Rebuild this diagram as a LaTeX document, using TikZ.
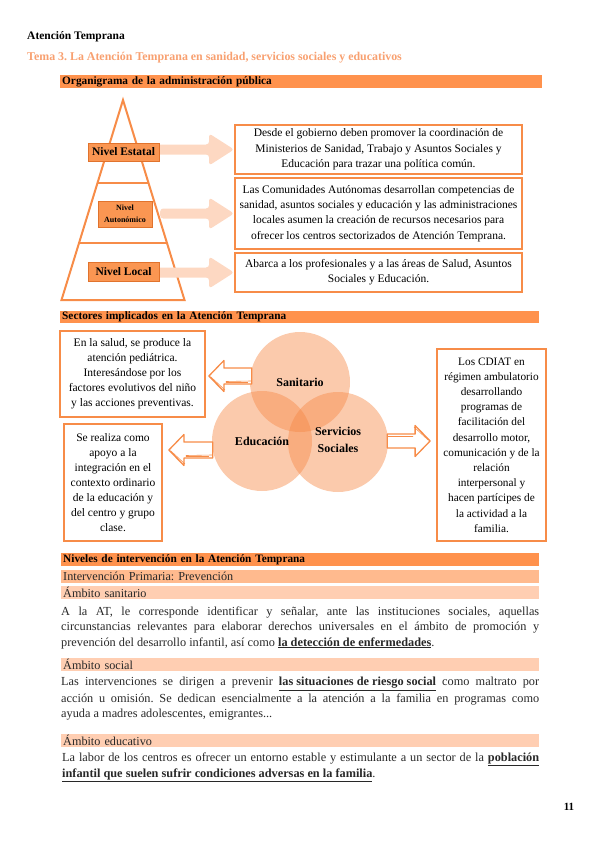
\documentclass[tikz,border=0pt]{standalone}
\usepackage{fontspec}
\setmainfont{Liberation Serif}
\usetikzlibrary{calc}
\frenchspacing
\pgfdeclarelayer{back}
\pgfdeclarelayer{mid}
\pgfsetlayers{back,mid,main}
\definecolor{orangebar}{RGB}{255,146,77}
\definecolor{lightbarA}{RGB}{255,186,142}
\definecolor{lightbarB}{RGB}{255,206,178}
\definecolor{titleorange}{RGB}{248,160,112}
\definecolor{borderorange}{RGB}{247,140,72}
\definecolor{arrowfill}{RGB}{253,216,194}
\definecolor{circorange}{RGB}{246,137,71}
\definecolor{lvlorange}{RGB}{250,150,82}
\definecolor{lvlborder}{RGB}{225,115,45}
\definecolor{bodytext}{RGB}{40,40,40}
\begin{document}
\begin{tikzpicture}[x=1pt,y=-1pt,
  barnode/.style={anchor=north west, inner xsep=2pt, inner ysep=0pt, minimum height=13pt,
     text width=478pt, align=left, font=\fontsize{11.3}{12}\selectfont\bfseries},
  lightbar/.style={anchor=north west, inner xsep=2pt, inner ysep=0pt, minimum height=12.5pt,
     text width=474pt, align=left, font=\fontsize{12.2}{12.5}\selectfont, text=bodytext},
  lvl/.style={fill=lvlorange, draw=lvlborder, line width=0.4pt, inner sep=0pt, align=center,
     font=\bfseries},
  infobox/.style={draw=borderorange, line width=1.8pt, fill=white, inner sep=0pt, align=center,
     font=\fontsize{11.5}{15.3}\selectfont},
  venn/.style={circle, minimum size=100pt, inner sep=0pt, fill=circorange, fill opacity=0.45},
  vennlabel/.style={font=\fontsize{12}{17}\selectfont\bfseries, align=center, inner sep=0pt},
  sketch/.style={draw=borderorange, line width=1.3pt, fill=white, line join=round},
  sketchthin/.style={draw=borderorange, line width=0.6pt, line join=round},
  para/.style={anchor=west, inner sep=0pt, font=\fontsize{12.3}{14}\selectfont, text=bodytext},
]
\useasboundingbox (0,0) rectangle (600,848);

% header
\node[anchor=west, inner sep=0pt, font=\fontsize{11.5}{13}\selectfont\bfseries] (hdr) at (27,37) {Atención Temprana};
\node[anchor=west, inner sep=0pt, font=\fontsize{11.9}{13}\selectfont\bfseries, text=titleorange] (tema) at (27,58)
  {Tema 3. La Atención Temprana en sanidad, servicios sociales y educativos};

% section 1
\node[barnode, fill=orangebar, minimum width=482pt] (org) at (60,75) {Organigrama de la administración pública};

% pyramid
\begin{pgfonlayer}{back}
\draw[draw=borderorange, line width=2pt, fill=white, line join=miter] (123,100) -- (184.5,300) -- (61.5,300) -- cycle;
\draw[borderorange, line width=1.2pt] (97.5,183) -- (148.5,183);
\draw[borderorange, line width=1.2pt] (79,243) -- (167,243);
\end{pgfonlayer}

% info boxes
\node[infobox, minimum width=287pt, minimum height=49pt] (b1) at (378.5,149.5)
  {Desde el gobierno deben promover la coordinación de\\Ministerios de Sanidad, Trabajo y Asuntos Sociales y\\Educación para trazar una política común.};
\node[infobox, minimum width=287pt, minimum height=71pt] (b2) at (378.5,213.5)
  {Las Comunidades Autónomas desarrollan competencias de\\sanidad, asuntos sociales y educación y las administraciones\\locales asumen la creación de recursos necesarios para\\ofrecer los centros sectorizados de Atención Temprana.};
\node[infobox, minimum width=287pt, minimum height=39pt] (b3) at (378.5,272.5)
  {Abarca a los profesionales y a las áreas de Salud, Asuntos\\Sociales y Educación.};

% level labels
\node[lvl, minimum width=71pt, minimum height=18pt, font=\fontsize{11.5}{12}\selectfont\bfseries] (l1) at (123.5,152) {Nivel Estatal};
\node[lvl, minimum width=54pt, minimum height=26pt, font=\fontsize{8}{12.5}\selectfont\bfseries] (l2) at (125,214) {Nivel\\Autonómico};
\node[lvl, minimum width=71pt, minimum height=19pt, font=\fontsize{11.5}{12}\selectfont\bfseries] (l3) at (123.5,271.5) {Nivel Local};
\coordinate (l2out) at ($(l2.east)+(8,0)$);

% block arrows
\begin{pgfonlayer}{mid}
\foreach \s/\e in {l1/b1, l2out/b2, l3/b3}{
  \fill[arrowfill, rounded corners=3pt] let \p1=(\s), \p2=(\e.west) in
    (\x1,\y2+5pt) -- (\x2-25pt,\y2+5pt) -- (\x2-25pt,\y2+16pt) -- (\x2,\y2) --
    (\x2-25pt,\y2-16pt) -- (\x2-25pt,\y2-5pt) -- (\x1,\y2-5pt) -- cycle;
}
\end{pgfonlayer}

% section 2
\node[barnode, fill=orangebar, minimum width=479pt, text width=475pt, minimum height=12pt] (sec) at (60,311) {Sectores implicados en la Atención Temprana};

\node[infobox, minimum width=145pt, minimum height=86pt, font=\fontsize{11.5}{15}\selectfont] (sal) at (132.5,374)
  {En la salud, se produce la\\atención pediátrica.\\Interesándose por los\\factores evolutivos del niño\\y las acciones preventivas.};
\node[infobox, minimum width=98pt, minimum height=117pt, font=\fontsize{11.5}{15}\selectfont] (rea) at (113,482.5)
  {Se realiza como\\apoyo a la\\integración en el\\contexto ordinario\\de la educación y\\del centro y grupo\\clase.};
\node[infobox, minimum width=109pt, minimum height=192pt, font=\fontsize{11.3}{15.2}\selectfont] (cdiat) at (491.5,445)
  {Los CDIAT en\\régimen ambulatorio\\desarrollando\\programas de\\facilitación del\\desarrollo motor,\\comunicación y de la\\relación\\interpersonal y\\hacen partícipes de\\la actividad a la\\familia.};

% venn
\node[venn] (san) at (300,382) {};
\node[venn] (edu) at (262,441) {};
\node[venn] (ss) at (338,442) {};
\node[vennlabel] (sanl) at (san) {Sanitario};
\node[vennlabel] (edul) at (edu) {Educación};
\node[vennlabel] (ssl) at ($(ss)+(0,-2)$) {Servicios\\Sociales};

% sketch arrows
\path let \p1=($(sal.east)+(3,2)$), \p2=($(san.west)+(2,0)$) in
  coordinate (ta) at (\x1,\y1) coordinate (ea) at (\x2,\y1);
\path let \p1=($(rea.east |- edu.west)+(6,9)$), \p2=($(edu.west)+(1,0)$) in
  coordinate (tb) at (\x1,\y1) coordinate (eb) at (\x2,\y1);
\path let \p1=($(cdiat.west |- ss.east)+(-6,-1)$), \p2=($(ss.east)+(-1,0)$) in
  coordinate (tc) at (\x1,\y1) coordinate (ec) at (\x2,\y1);

\foreach \t/\e in {ta/ea, tb/eb}{
  \draw[sketch] let \p1=(\t), \p2=(\e) in
    (\x1,\y1) -- (\x1+15pt,\y1+15.5pt) -- (\x1+15pt,\y1+8pt) -- (\x2,\y1+8pt) --
    (\x2,\y1-8pt) -- (\x1+15pt,\y1-8pt) -- (\x1+15pt,\y1-15.5pt) -- cycle;
  \draw[sketchthin] let \p1=(\t), \p2=(\e) in
    (\x1+2pt,\y1-1pt) -- (\x1+16pt,\y1-14pt) (\x1+17pt,\y1-5.5pt) -- (\x2-1pt,\y1-5pt)
    (\x1+17pt,\y1-6.5pt) -- (\x2-4pt,\y1-6.5pt);
}
\draw[sketch] let \p1=(tc), \p2=(ec) in
  (\x1,\y1) -- (\x1-15pt,\y1+15.5pt) -- (\x1-15pt,\y1+7pt) -- (\x2,\y1+7pt) --
  (\x2,\y1-7pt) -- (\x1-15pt,\y1-7pt) -- (\x1-15pt,\y1-15.5pt) -- cycle;
\draw[sketchthin] let \p1=(tc), \p2=(ec) in
  (\x1-2pt,\y1+1pt) -- (\x1-16pt,\y1+14pt) (\x2+1pt,\y1+4.5pt) -- (\x1-17pt,\y1+4.5pt);

% section 3
\node[barnode, fill=orangebar, minimum width=478pt, text width=474pt] (niv) at (61,553) {Niveles de intervención en la Atención Temprana};
\node[lightbar, fill=lightbarA, minimum width=478pt] (prim) at (61,570) {Intervención Primaria: Prevención};
\node[lightbar, fill=lightbarB, minimum width=478pt] (asan) at (61,586) {Ámbito sanitario};

\node[para] (p1a) at (61,612) {\makebox[478pt][s]{A la AT, le corresponde identificar y señalar, ante las instituciones sociales, aquellas}};
\node[para] (p1b) at (61,627.5) {\makebox[478pt][s]{circunstancias relevantes para elaborar derechos universales en el ámbito de promoción y}};
\node[para] (p1c) at (61,643) {prevención del desarrollo infantil, así como \underline{\textbf{la detección de enfermedades}}.};

\node[lightbar, fill=lightbarB, minimum width=478pt, minimum height=13pt] (asoc) at (61,658) {Ámbito social};
\node[para] (p2a) at (61,684) {\makebox[478pt][s]{Las intervenciones se dirigen a prevenir \underline{\textbf{las situaciones de riesgo social}} como maltrato por}};
\node[para] (p2b) at (61,699.5) {\makebox[478pt][s]{acción u omisión. Se dedican esencialmente a la atención a la familia en programas como}};
\node[para] (p2c) at (61,715) {ayuda a madres adolescentes, emigrantes...};

\node[lightbar, fill=lightbarB, minimum width=478pt] (aedu) at (61,734) {Ámbito educativo};
\node[para] (p3a) at (62,759) {\makebox[477pt][s]{La labor de los centros es ofrecer un entorno estable y estimulante a un sector de la \underline{\textbf{población}}}};
\node[para] (p3b) at (62,775) {\underline{\textbf{infantil que suelen sufrir condiciones adversas en la familia}}.};

% page number
\node[inner sep=0pt, font=\fontsize{11}{12}\selectfont\bfseries] (pg) at (569,807) {11};
\end{tikzpicture}
\end{document}
